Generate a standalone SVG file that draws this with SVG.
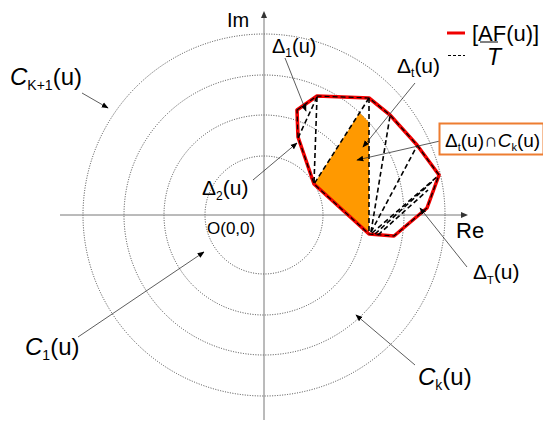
<svg xmlns="http://www.w3.org/2000/svg" width="543" height="422" viewBox="0 0 543 422">
<style>
.t{font-family:"Liberation Sans",Arial,sans-serif;fill:#000}
.circ{fill:none;stroke:#333;stroke-width:0.9;stroke-dasharray:1 1.5}
.ax{stroke:#777;stroke-width:1;fill:none}
.dash{stroke:#000;stroke-width:1.6;stroke-dasharray:5 3;fill:none}
.edge{stroke:#000;stroke-width:1.2;stroke-dasharray:5 3;fill:none}
.lead{stroke:#333;stroke-width:0.8;fill:none}
</style>
<defs>
<marker id="ah" viewBox="0 0 10 10" refX="9" refY="5" markerWidth="7" markerHeight="7" orient="auto" markerUnits="userSpaceOnUse">
<path d="M0,1 L10,5 L0,9 Z" fill="#000"/>
</marker>
</defs>
<rect width="543" height="422" fill="#fff"/>
<g id="circles">
<circle class="circ" cx="264" cy="215" r="59"/>
<circle class="circ" cx="264" cy="215" r="100"/>
<circle class="circ" cx="264" cy="215" r="140"/>
<circle class="circ" cx="264" cy="215" r="181"/>
</g>
<g id="axes">
<line class="ax" x1="60" y1="215" x2="464" y2="215"/>
<path d="M468,215 L461,212 L461,218 Z" fill="#333"/>
<line class="ax" x1="264" y1="420" x2="264" y2="16"/>
<path d="M264,11 L261,18 L267,18 Z" fill="#333"/>
</g>
<g id="region">
<path d="M314,184 L359.5,112.8 A140,140 0 0 1 369,122.4 L369,234 Z" fill="#FF9900"/>
</g>
<g id="polygon">
<polygon points="297,110 317,96 369,98 390,115 417,145 439,175 427,208 394,236 369,234 314,184 298,137" fill="none" stroke="#F00000" stroke-width="3.6" stroke-linejoin="round"/>
<polygon class="edge" points="297,110 317,96 369,98 390,115 417,145 439,175 427,208 394,236 369,234 314,184 298,137"/>
<line class="dash" x1="317" y1="97" x2="298" y2="138"/>
<line class="dash" x1="317" y1="97" x2="314" y2="183"/>
<line class="dash" x1="369" y1="98" x2="314" y2="184"/>
<line class="dash" x1="369" y1="98" x2="369" y2="234"/>
<line class="dash" x1="371" y1="232" x2="390" y2="116"/>
<line class="dash" x1="371" y1="232" x2="417" y2="146"/>
<line class="dash" x1="372" y1="233" x2="438" y2="176"/>
<line class="dash" x1="375" y1="234" x2="434" y2="180"/>
<line class="dash" x1="378" y1="235" x2="428" y2="190"/>
</g>
<g id="connectors">
<line class="lead" x1="285" y1="58" x2="306" y2="111" marker-end="url(#ah)"/>
<line class="lead" x1="253" y1="180" x2="297" y2="143" marker-end="url(#ah)"/>
<line class="lead" x1="415" y1="83" x2="363" y2="147" marker-end="url(#ah)"/>
<line class="lead" x1="440" y1="141" x2="357" y2="160" marker-end="url(#ah)"/>
<line class="lead" x1="467" y1="267" x2="420" y2="208" marker-end="url(#ah)"/>
<line class="lead" x1="82" y1="93" x2="108" y2="108" marker-end="url(#ah)"/>
<line class="lead" x1="78" y1="337" x2="204" y2="252" marker-end="url(#ah)"/>
<line class="lead" x1="415" y1="365" x2="356" y2="315" marker-end="url(#ah)"/>
</g>
<g id="label-im"><text class="t" x="227" y="27" font-size="20">Im</text></g>
<g id="label-re"><text class="t" x="456" y="238" font-size="22">Re</text></g>
<g id="label-origin"><text class="t" x="207" y="234" font-size="17">O(0,0)</text></g>
<g id="label-delta1"><text class="t" x="272" y="53" font-size="20">Δ<tspan font-size="12" dy="4">1</tspan><tspan dy="-4">(u)</tspan></text></g>
<g id="label-delta2"><text class="t" x="202" y="195" font-size="21">Δ<tspan font-size="12" dy="5">2</tspan><tspan dy="-5">(u)</tspan></text></g>
<g id="label-deltat"><text class="t" x="397" y="73" font-size="21">Δ<tspan font-size="12" dy="4">t</tspan><tspan dy="-4">(u)</tspan></text></g>
<g id="label-deltaT"><text class="t" x="473" y="279" font-size="21">Δ<tspan font-size="11" dy="5">T</tspan><tspan dy="-5">(u)</tspan></text></g>
<g id="label-intersect">
<rect x="439.5" y="123.5" width="104" height="31" fill="#fff" stroke="#ED7D31" stroke-width="2"/>
<text class="t" x="445" y="147" font-size="19">Δ<tspan font-size="11" dy="4">t</tspan><tspan dy="-4">(u)∩</tspan><tspan font-style="italic">C</tspan><tspan font-size="11" dy="4">k</tspan><tspan dy="-4">(u)</tspan></text>
</g>
<g id="label-ck1"><text class="t" x="10" y="85" font-size="24"><tspan font-style="italic">C</tspan><tspan font-size="14" dy="5">K+1</tspan><tspan dy="-5">(u)</tspan></text></g>
<g id="label-c1"><text class="t" x="25" y="355" font-size="24"><tspan font-style="italic">C</tspan><tspan font-size="14" dy="5">1</tspan><tspan dy="-5">(u)</tspan></text></g>
<g id="label-ck"><text class="t" x="418" y="385" font-size="24"><tspan font-style="italic">C</tspan><tspan font-size="14" dy="5">k</tspan><tspan dy="-5">(u)</tspan></text></g>
<g id="legend">
<line x1="447" y1="33" x2="465" y2="33" stroke="#F00000" stroke-width="3"/>
<line x1="448" y1="55.5" x2="465" y2="55.5" stroke="#000" stroke-width="1" stroke-dasharray="3 2"/>
<text class="t" x="472" y="41" font-size="22">[AF(u)]</text>
<line x1="480" y1="42" x2="498" y2="42" stroke="#000" stroke-width="1"/>
<text class="t" x="487" y="65" font-size="23" font-style="italic">T</text>
</g>
</svg>
